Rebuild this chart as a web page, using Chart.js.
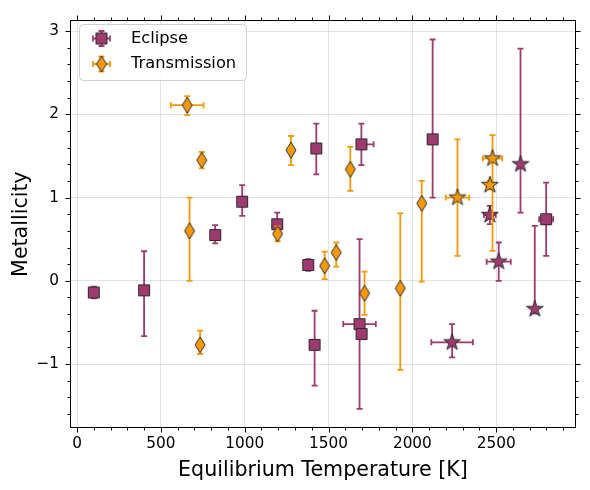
<!DOCTYPE html>
<html>
<head>
<meta charset="utf-8">
<script src="https://cdn.jsdelivr.net/npm/chart.js@4.4.0/dist/chart.umd.min.js"></script>
<style>
  html, body { margin: 0; padding: 0; background: #fff; }
  #wrap { width: 590px; height: 490px; }
</style>
</head>
<body>
<div id="wrap"><canvas id="myChart" width="590" height="490"></canvas></div>
<script>
// Eclipse measurements (T_eq in K, metallicity)
const eclipseTemp     = [100, 400, 824, 985, 1194, 1379, 1427, 1417, 1696, 1685, 1697, 2121, 2798, 2237, 2462, 2515, 2645, 2730];
const eclipseMet      = [-0.14, -0.115, 0.55, 0.95, 0.68, 0.19, 1.59, -0.77, 1.64, -0.52, -0.64, 1.70, 0.74, -0.74, 0.79, 0.23, 1.40, -0.34];
const eclipseTempLo   = [0, 0, 0, 0, 0, 20, 0, 0, 10, 97, 0, 0, 42, 124, 35, 72, 0, 0];
const eclipseTempHi   = [0, 0, 0, 0, 0, 20, 0, 0, 73, 97, 0, 0, 42, 124, 35, 72, 0, 0];
const eclipseMetLo    = [0.07, 0.55, 0.10, 0.17, 0.14, 0.07, 0.31, 0.49, 0.25, 1.02, 0.05, 0.70, 0.44, 0.18, 0.11, 0.23, 0.58, 0.05];
const eclipseMetHi    = [0.07, 0.47, 0.12, 0.20, 0.14, 0.07, 0.30, 0.41, 0.25, 1.02, 0.05, 1.20, 0.44, 0.22, 0.11, 0.23, 1.39, 1.00];
const eclipseIsStar   = [0, 0, 0, 0, 0, 0, 0, 0, 0, 0, 0, 0, 0, 1, 1, 1, 1, 1];

// Transmission measurements
const transTemp       = [657, 744, 671, 734, 1196, 1276, 1477, 1546, 1630, 1715, 1928, 2056, 2269, 2478, 2462];
const transMet        = [2.11, 1.45, 0.60, -0.77, 0.565, 1.57, 0.18, 0.34, 1.34, -0.15, -0.09, 0.93, 1.00, 1.47, 1.15];
const transTempLo     = [98, 0, 0, 0, 0, 0, 0, 0, 0, 0, 15, 0, 70, 58, 20];
const transTempHi     = [98, 0, 0, 0, 0, 0, 0, 0, 0, 0, 15, 0, 70, 58, 20];
const transMetLo      = [0.12, 0.10, 0.60, 0.11, 0.09, 0.18, 0.16, 0.17, 0.26, 0.26, 0.98, 0.94, 0.70, 1.11, 0.05];
const transMetHi      = [0.11, 0.10, 0.40, 0.17, 0.09, 0.17, 0.17, 0.12, 0.27, 0.26, 0.90, 0.27, 0.70, 0.28, 0.05];
const transIsStar     = [0, 0, 0, 0, 0, 0, 0, 0, 0, 0, 0, 0, 1, 1, 1];

const xTicks = [0, 500, 1000, 1500, 2000, 2500];
const yTicks = [-1, 0, 1, 2, 3];

const PURPLE = '#9e3a6f';
const ORANGE = '#f5990a';
const EDGE = '#2b2b2b';
const FONT = "'DejaVu Sans', sans-serif";

function makeMarker(shape, fill) {
  const c = document.createElement('canvas');
  c.width = 22; c.height = 22;
  const g = c.getContext('2d');
  g.translate(11, 11);
  g.beginPath();
  if (shape === 'square') {
    g.rect(-5.5, -5.5, 11, 11);
  } else if (shape === 'diamond') {
    g.moveTo(0, -8); g.lineTo(5, 0); g.lineTo(0, 8); g.lineTo(-5, 0); g.closePath();
  } else {
    const ro = 8.8, ri = 3.4;
    for (let k = 0; k < 10; k++) {
      const r = k % 2 ? ri : ro;
      const a = -Math.PI / 2 + k * Math.PI / 5;
      if (k === 0) g.moveTo(r * Math.cos(a), r * Math.sin(a));
      else g.lineTo(r * Math.cos(a), r * Math.sin(a));
    }
    g.closePath();
  }
  g.fillStyle = fill; g.fill();
  g.lineWidth = 1; g.strokeStyle = EDGE; g.stroke();
  return c;
}

const squareP = makeMarker('square', PURPLE);
const starP = makeMarker('star', PURPLE);
const diamondO = makeMarker('diamond', ORANGE);
const starO = makeMarker('star', ORANGE);

function puntos(xs, ys) {
  return xs.map((v, i) => ({ x: v, y: ys[i] }));
}

const datasets = [
  {
    label: 'Eclipse',
    data: puntos(eclipseTemp, eclipseMet),
    pointStyle: eclipseIsStar.map(s => s ? starP : squareP),
    pointRadius: 6,
    color: PURPLE,
    err: { xLo: eclipseTempLo, xHi: eclipseTempHi, yLo: eclipseMetLo, yHi: eclipseMetHi },
    order: 1
  },
  {
    label: 'Transmission',
    data: puntos(transTemp, transMet),
    pointStyle: transIsStar.map(s => s ? starO : diamondO),
    pointRadius: 6,
    color: ORANGE,
    err: { xLo: transTempLo, xHi: transTempHi, yLo: transMetLo, yHi: transMetHi },
    order: 0
  }
];

function lineas(ctx, segs) {
  ctx.beginPath();
  segs.forEach(s => { ctx.moveTo(s[0], s[1]); ctx.lineTo(s[2], s[3]); });
  ctx.stroke();
}

// error bars drawn just before each dataset's markers
const errorBars = {
  id: 'errorBars',
  beforeDatasetDraw(chart, args) {
    const ds = chart.data.datasets[args.index];
    const { ctx, scales: { x, y } } = chart;
    const e = ds.err;
    const cap = 3;
    ctx.save();
    ctx.strokeStyle = ds.color;
    ctx.lineWidth = 1.8;
    ds.data.forEach((p, i) => {
      const cx = x.getPixelForValue(p.x), cy = y.getPixelForValue(p.y);
      if (e.yLo[i] || e.yHi[i]) {
        const y0 = y.getPixelForValue(p.y - e.yLo[i]);
        const y1 = y.getPixelForValue(p.y + e.yHi[i]);
        lineas(ctx, [[cx, y0, cx, y1], [cx - cap, y0, cx + cap, y0], [cx - cap, y1, cx + cap, y1]]);
      }
      if (e.xLo[i] || e.xHi[i]) {
        const x0 = x.getPixelForValue(p.x - e.xLo[i]);
        const x1 = x.getPixelForValue(p.x + e.xHi[i]);
        lineas(ctx, [[x0, cy, x1, cy], [x0, cy - cap, x0, cy + cap], [x1, cy - cap, x1, cy + cap]]);
      }
    });
    ctx.restore();
  }
};

// frame with major/minor ticks on all four sides
const axisFrame = {
  id: 'axisFrame',
  afterDraw(chart) {
    const { ctx, chartArea: a, scales: { x, y } } = chart;
    ctx.save();
    ctx.strokeStyle = '#000';
    ctx.lineWidth = 1;
    const L = Math.round(a.left) - 0.5, R = Math.round(a.right) + 0.5;
    const T = Math.round(a.top) - 0.5, B = Math.round(a.bottom) + 0.5;
    ctx.strokeRect(L, T, R - L, B - T);
    const segs = [];
    for (let v = 0; v <= 2900; v += 100) {
      const len = v % 500 === 0 ? 5 : 3;
      const px = Math.round(x.getPixelForValue(v)) + 0.5;
      segs.push([px, B, px, B + len], [px, T, px, T - len]);
    }
    for (let k = -8; k <= 15; k++) {
      const v = k * 0.2;
      const len = k % 5 === 0 ? 5 : 3;
      const py = Math.round(y.getPixelForValue(v)) + 0.5;
      segs.push([L, py, L - len, py], [R, py, R + len, py]);
    }
    lineas(ctx, segs);
    ctx.restore();
  }
};

// legend box in the upper left corner
const legendBox = {
  id: 'legendBox',
  afterDraw(chart) {
    const { ctx } = chart;
    ctx.save();
    ctx.beginPath();
    ctx.roundRect(79.5, 24.5, 167, 56, 4);
    ctx.fillStyle = 'rgba(255,255,255,0.8)';
    ctx.fill();
    ctx.strokeStyle = '#d0d0d0';
    ctx.lineWidth = 1;
    ctx.stroke();
    const items = [
      { label: 'Eclipse', color: PURPLE, img: squareP, y: 38.5 },
      { label: 'Transmission', color: ORANGE, img: diamondO, y: 64 }
    ];
    items.forEach(it => {
      const cx = 101.5, cy = it.y;
      ctx.strokeStyle = it.color;
      ctx.lineWidth = 1.8;
      lineas(ctx, [
        [cx - 8.5, cy, cx + 8.5, cy], [cx - 8.5, cy - 3, cx - 8.5, cy + 3], [cx + 8.5, cy - 3, cx + 8.5, cy + 3],
        [cx, cy - 7.5, cx, cy + 7.5], [cx - 3, cy - 7.5, cx + 3, cy - 7.5], [cx - 3, cy + 7.5, cx + 3, cy + 7.5]
      ]);
      ctx.drawImage(it.img, cx - 11, cy - 11);
      ctx.fillStyle = '#000';
      ctx.font = '16.3px ' + FONT;
      ctx.textBaseline = 'middle';
      ctx.fillText(it.label, 131, cy);
    });
    ctx.restore();
  }
};

const ctx = document.getElementById('myChart').getContext('2d');
new Chart(ctx, {
  type: 'scatter',
  data: { datasets: datasets },
  options: {
    responsive: false,
    animation: false,
    layout: { padding: { top: 16, right: 15, left: 0, bottom: 0 } },
    plugins: { legend: { display: false }, tooltip: { enabled: false } },
    scales: {
      x: {
        type: 'linear',
        min: -36,
        max: 2970,
        afterBuildTicks: s => { s.ticks = xTicks.map(v => ({ value: v })); },
        afterFit: s => { s.height = 63; },
        grid: { color: 'rgba(0,0,0,0.11)', drawTicks: false },
        border: { display: false },
        ticks: { padding: 8, color: '#000', maxRotation: 0, font: { family: FONT, size: 15.3 }, callback: v => String(v) },
        title: { display: true, text: 'Equilibrium Temperature [K]', color: '#000', font: { family: FONT, size: 20.6 }, padding: { top: 0, bottom: 7 } }
      },
      y: {
        type: 'linear',
        min: -1.757,
        max: 3.12,
        afterBuildTicks: s => { s.ticks = yTicks.map(v => ({ value: v })); },
        afterFit: s => { s.width = 71; },
        grid: { color: 'rgba(0,0,0,0.11)', drawTicks: false },
        border: { display: false },
        ticks: {
          padding: 12, color: '#000', font: { family: FONT, size: 15.3 },
          callback: v => (v < 0 ? '\u2212' + Math.abs(v) : String(v))
        },
        title: { display: true, text: 'Metallicity', color: '#000', font: { family: FONT, size: 20.6 }, padding: { top: 9, bottom: 0 } }
      }
    }
  },
  plugins: [errorBars, axisFrame, legendBox]
});
</script>
</body>
</html>
